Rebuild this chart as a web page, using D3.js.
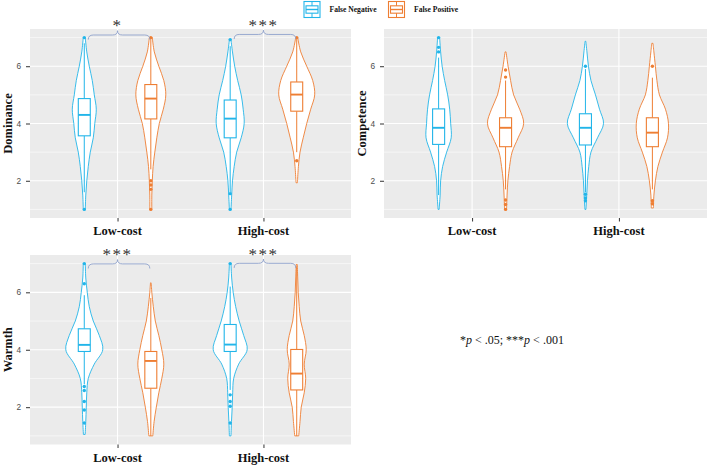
<!DOCTYPE html>
<html>
<head>
<meta charset="utf-8">
<script src="https://cdn.jsdelivr.net/npm/d3@7"></script>
<style>
  body { margin: 0; background: #fff; }
  svg { display: block; }
</style>
</head>
<body>
<div id="chart"></div>
<script>
// ---- data ----
var costs = ["Low-cost", "High-cost"];
var groups = ["False Negative", "False Positive"];
var measures = ["Dominance", "Competence", "Warmth"];
var yTicks = [2, 4, 6];
var yMinor = [1, 3, 5, 7];
var densityGrid = [1, 1.5, 2, 2.5, 3, 3.5, 4, 4.5, 5, 5.5, 6, 6.5, 7];

// order: measure x cost x group
var boxStats = [
  { measure: "Dominance",  cost: "Low-cost",  group: "False Negative", lo: 1.6, q1: 3.57, med: 4.30, q3: 4.87, hi: 6.8 },
  { measure: "Dominance",  cost: "Low-cost",  group: "False Positive", lo: 2.4, q1: 4.16, med: 4.87, q3: 5.36, hi: 7.0 },
  { measure: "Dominance",  cost: "High-cost", group: "False Negative", lo: 1.6, q1: 3.50, med: 4.17, q3: 4.82, hi: 6.7 },
  { measure: "Dominance",  cost: "High-cost", group: "False Positive", lo: 3.0, q1: 4.43, med: 5.01, q3: 5.45, hi: 6.95 },
  { measure: "Competence", cost: "Low-cost",  group: "False Negative", lo: 1.5, q1: 3.27, med: 3.85, q3: 4.51, hi: 6.3 },
  { measure: "Competence", cost: "Low-cost",  group: "False Positive", lo: 1.7, q1: 3.19, med: 3.85, q3: 4.20, hi: 5.5 },
  { measure: "Competence", cost: "High-cost", group: "False Negative", lo: 1.6, q1: 3.25, med: 3.85, q3: 4.34, hi: 5.9 },
  { measure: "Competence", cost: "High-cost", group: "False Positive", lo: 1.7, q1: 3.19, med: 3.68, q3: 4.20, hi: 5.6 },
  { measure: "Warmth",     cost: "Low-cost",  group: "False Negative", lo: 2.8, q1: 3.94, med: 4.17, q3: 4.73, hi: 5.9 },
  { measure: "Warmth",     cost: "Low-cost",  group: "False Positive", lo: 1.0, q1: 2.66, med: 3.61, q3: 3.94, hi: 5.8 },
  { measure: "Warmth",     cost: "High-cost", group: "False Negative", lo: 2.6, q1: 3.94, med: 4.18, q3: 4.88, hi: 6.2 },
  { measure: "Warmth",     cost: "High-cost", group: "False Positive", lo: 1.0, q1: 2.60, med: 3.17, q3: 4.01, hi: 6.9 }
];

var violinRange = [
  [1, 7], [1, 7], [1, 6.93], [1.93, 7],
  [1, 7], [1, 6.5], [1, 6.87], [1.05, 6.8],
  [1.05, 7], [1, 6.33], [1, 7], [1, 6.97]
];

// relative density on densityGrid
var violinDensity = [
  [0.05, 0.075, 0.125, 0.2, 0.3, 0.45, 0.525, 0.6, 0.5, 0.4, 0.25, 0.125, 0.05],
  [0.05, 0.05, 0.075, 0.115, 0.2, 0.3, 0.425, 0.625, 0.75, 0.65, 0.4, 0.175, 0.075],
  [0.04, 0.075, 0.115, 0.2, 0.325, 0.55, 0.7, 0.65, 0.55, 0.375, 0.225, 0.115, 0.025],
  [0, 0, 0.04, 0.085, 0.165, 0.325, 0.5, 0.7, 0.9, 0.8, 0.5, 0.2, 0.05],
  [0.025, 0.075, 0.1, 0.2, 0.4, 0.625, 0.6, 0.55, 0.45, 0.3, 0.175, 0.1, 0.05],
  [0.05, 0.075, 0.115, 0.2, 0.325, 0.625, 0.9, 0.7, 0.4, 0.25, 0.125, 0.025, 0],
  [0.025, 0.065, 0.1, 0.165, 0.275, 0.6, 0.9, 0.7, 0.5, 0.275, 0.15, 0.075, 0],
  [0.05, 0.075, 0.15, 0.275, 0.5, 0.75, 0.8, 0.65, 0.35, 0.225, 0.15, 0.075, 0],
  [0.04, 0.075, 0.1, 0.125, 0.2, 0.5, 0.925, 0.75, 0.45, 0.25, 0.15, 0.075, 0.05],
  [0.1, 0.165, 0.275, 0.4, 0.55, 0.65, 0.55, 0.4, 0.225, 0.125, 0.05, 0, 0],
  [0.04, 0.065, 0.1, 0.125, 0.175, 0.425, 0.85, 0.675, 0.45, 0.275, 0.15, 0.075, 0.04],
  [0.1, 0.165, 0.225, 0.375, 0.45, 0.375, 0.475, 0.375, 0.2, 0.125, 0.075, 0.05, 0.025]
];

var outliers = [
  [1, 7],
  [2.0, 1.85, 1.7, 1.0, 7],
  [6.93, 1.55, 1.0],
  [7, 2.7],
  [7, 6.66, 6.5],
  [5.87, 5.62, 1.33, 1.17, 1.0],
  [6.0, 1.53, 1.4, 1.3],
  [6.0, 1.3, 1.2],
  [7, 6.3, 2.72, 2.58, 2.2, 1.9, 1.45],
  [],
  [7, 2.43, 2.2, 2.03, 1.45],
  []
];

// brace tip level (data units) and label
var sigBrackets = [
  { measure: "Dominance", cost: "Low-cost",  label: "*",   tip: 7.24 },
  { measure: "Dominance", cost: "High-cost", label: "***", tip: 7.26 },
  { measure: "Warmth",    cost: "Low-cost",  label: "***", tip: 7.14 },
  { measure: "Warmth",    cost: "High-cost", label: "***", tip: 7.16 }
];

// ---- layout ----
var W = 709, H = 465;
var serif = "'Liberation Serif','Times New Roman',serif";
var sans = "'Liberation Sans',Arial,sans-serif";
var colors = { "False Negative": "#22B5E9", "False Positive": "#EE7E33" };
var panels = [
  { measure: "Dominance",  left: 30,  right: 351, top: 29,  bottom: 218 },
  { measure: "Competence", left: 384, right: 707, top: 29,  bottom: 218 },
  { measure: "Warmth",     left: 30,  right: 351, top: 255, bottom: 444.5 }
];

var svg = d3.select("#chart").append("svg")
    .attr("width", W)
    .attr("height", H);

function densityAt(dens, v) {
  for (var i = 0; i < densityGrid.length - 1; i++) {
    if (v >= densityGrid[i] && v <= densityGrid[i + 1]) {
      var t = (v - densityGrid[i]) / (densityGrid[i + 1] - densityGrid[i]);
      return dens[i] + t * (dens[i + 1] - dens[i]);
    }
  }
  return 0;
}

panels.forEach(function(p) {
  var g = svg.append("g");

  var x = d3.scalePoint().domain(costs).range([p.left, p.right]).padding(0.6);
  var step = x.step();
  var dodge = d3.scalePoint().domain(groups).range([-0.228 * step, 0.228 * step]);
  var y = d3.scaleLinear().domain([0.7, 7.3]).range([p.bottom, p.top]);
  var w = d3.scaleLinear().domain([0, 1]).range([0, 0.137 * step]);
  var boxHalf = 0.041 * step;

  // panel background + grid
  g.append("rect")
      .attr("x", p.left).attr("y", p.top)
      .attr("width", p.right - p.left).attr("height", p.bottom - p.top)
      .attr("fill", "#EBEBEB");

  g.selectAll(".minor").data(yMinor).enter().append("line")
      .attr("x1", p.left).attr("x2", p.right)
      .attr("y1", function(d) { return y(d); }).attr("y2", function(d) { return y(d); })
      .attr("stroke", "#fff").attr("stroke-width", 0.55);

  g.selectAll(".major").data(yTicks).enter().append("line")
      .attr("x1", p.left).attr("x2", p.right)
      .attr("y1", function(d) { return y(d); }).attr("y2", function(d) { return y(d); })
      .attr("stroke", "#fff").attr("stroke-width", 1.1);

  g.selectAll(".vgrid").data(costs).enter().append("line")
      .attr("x1", function(d) { return x(d); }).attr("x2", function(d) { return x(d); })
      .attr("y1", p.top).attr("y2", p.bottom)
      .attr("stroke", "#fff").attr("stroke-width", 1.1);

  // axes
  var yAxis = d3.axisLeft(y).tickValues(yTicks).tickFormat(d3.format("d")).tickSize(4).tickPadding(5);
  var ya = g.append("g").attr("transform", "translate(" + p.left + ",0)").call(yAxis);
  ya.select(".domain").remove();
  ya.selectAll("line").attr("stroke", "#333");
  ya.selectAll("text").attr("fill", "#4D4D4D").style("font-family", sans).style("font-size", "8.3px");

  var xAxis = d3.axisBottom(x).tickSize(3.5).tickFormat("");
  var xa = g.append("g").attr("transform", "translate(0," + p.bottom + ")").call(xAxis);
  xa.select(".domain").remove();
  xa.selectAll("line").attr("stroke", "#333");

  g.selectAll(".xlab").data(costs).enter().append("text")
      .attr("x", function(d) { return x(d); })
      .attr("y", p.bottom + 17)
      .attr("text-anchor", "middle")
      .style("font-family", serif).style("font-weight", "bold").style("font-size", "12.5px")
      .attr("fill", "#111")
      .text(function(d) { return d; });

  g.append("text")
      .attr("transform", "translate(" + (p.left - 18.5) + "," + ((p.top + p.bottom) / 2) + ") rotate(-90)")
      .attr("text-anchor", "middle")
      .style("font-family", serif).style("font-weight", "bold").style("font-size", "12.5px")
      .attr("fill", "#111")
      .text(p.measure);

  // violins + boxplots
  var area = d3.area().curve(d3.curveCatmullRom.alpha(0.5));

  boxStats.forEach(function(b, i) {
    if (b.measure !== p.measure) return;
    var cx = x(b.cost) + dodge(b.group);
    var col = colors[b.group];
    var dens = violinDensity[i];
    var lo = violinRange[i][0], hi = violinRange[i][1];

    var pts = [[lo, densityAt(dens, lo)]];
    densityGrid.forEach(function(gv, j) {
      if (gv > lo && gv < hi) pts.push([gv, dens[j]]);
    });
    pts.push([hi, densityAt(dens, hi)]);

    area.y(function(d) { return y(d[0]); })
        .x0(function(d) { return cx - w(d[1]); })
        .x1(function(d) { return cx + w(d[1]); });

    g.append("path")
        .attr("d", area(pts))
        .attr("fill", "#fff")
        .attr("stroke", col)
        .attr("stroke-width", 0.9);

    // whiskers
    g.append("line")
        .attr("x1", cx).attr("x2", cx)
        .attr("y1", y(b.hi)).attr("y2", y(b.q3))
        .attr("stroke", col).attr("stroke-width", 1);
    g.append("line")
        .attr("x1", cx).attr("x2", cx)
        .attr("y1", y(b.q1)).attr("y2", y(b.lo))
        .attr("stroke", col).attr("stroke-width", 1);

    g.append("rect")
        .attr("x", cx - boxHalf).attr("width", 2 * boxHalf)
        .attr("y", y(b.q3)).attr("height", y(b.q1) - y(b.q3))
        .attr("fill", "#fff")
        .attr("stroke", col).attr("stroke-width", 1.1);

    g.append("line")
        .attr("x1", cx - boxHalf).attr("x2", cx + boxHalf)
        .attr("y1", y(b.med)).attr("y2", y(b.med))
        .attr("stroke", col).attr("stroke-width", 1.9);

    g.selectAll(null).data(outliers[i]).enter().append("circle")
        .attr("cx", cx)
        .attr("cy", function(d) { return y(d); })
        .attr("r", 1.7)
        .attr("fill", col);
  });

  // significance braces
  sigBrackets.forEach(function(s) {
    if (s.measure !== p.measure) return;
    var x0 = x(s.cost) + dodge(groups[0]) + 4;
    var x1 = x(s.cost) + dodge(groups[1]) - 1;
    var xm = x(s.cost);
    var yEnd = y(s.tip - 0.31), yFlat = y(s.tip - 0.15), yTip = y(s.tip);
    var r = 5;
    var path = "M" + x0 + "," + yEnd +
        " Q" + x0 + "," + yFlat + " " + (x0 + r) + "," + yFlat +
        " L" + (xm - r) + "," + yFlat +
        " Q" + xm + "," + yFlat + " " + xm + "," + yTip +
        " Q" + xm + "," + yFlat + " " + (xm + r) + "," + yFlat +
        " L" + (x1 - r) + "," + yFlat +
        " Q" + x1 + "," + yFlat + " " + x1 + "," + yEnd;
    g.append("path")
        .attr("d", path)
        .attr("fill", "none")
        .attr("stroke", "#8FA2CC")
        .attr("stroke-width", 0.9);

    g.append("text")
        .attr("x", xm)
        .attr("y", yTip + 0.5)
        .attr("text-anchor", "middle")
        .style("font-family", serif).style("font-size", "17px")
        .style("letter-spacing", "1.5px")
        .attr("fill", "#333")
        .text(s.label);
  });
});

// legend
var legend = svg.append("g");
var legendX = [304, 388.5];
groups.forEach(function(gr, i) {
  var lx = legendX[i], ly = 1.5, s = 16;
  var col = colors[gr];
  legend.append("rect")
      .attr("x", lx).attr("y", ly).attr("width", s).attr("height", s)
      .attr("fill", "#fff").attr("stroke", col).attr("stroke-width", 1.1);
  legend.append("rect")
      .attr("x", lx + 2).attr("y", ly + s * 0.27).attr("width", s - 4).attr("height", s * 0.46)
      .attr("fill", "#fff").attr("stroke", col).attr("stroke-width", 1.1);
  legend.append("line")
      .attr("x1", lx + 2).attr("x2", lx + s - 2)
      .attr("y1", ly + s / 2).attr("y2", ly + s / 2)
      .attr("stroke", col).attr("stroke-width", 1.4);
  legend.append("line")
      .attr("x1", lx + s / 2).attr("x2", lx + s / 2)
      .attr("y1", ly).attr("y2", ly + s * 0.27)
      .attr("stroke", col).attr("stroke-width", 1);
  legend.append("line")
      .attr("x1", lx + s / 2).attr("x2", lx + s / 2)
      .attr("y1", ly + s * 0.73).attr("y2", ly + s)
      .attr("stroke", col).attr("stroke-width", 1);
  legend.append("text")
      .attr("x", lx + s + 9.5)
      .attr("y", ly + s / 2 + 2.6)
      .style("font-family", serif).style("font-weight", "bold").style("font-size", "7.6px")
      .attr("fill", "#111")
      .text(gr);
});

// p-value note
var note = svg.append("text")
    .attr("x", 460)
    .attr("y", 344)
    .style("font-family", serif).style("font-size", "12px")
    .attr("fill", "#111");
note.append("tspan").text("*");
note.append("tspan").style("font-style", "italic").text("p");
note.append("tspan").text(" < .05; ***");
note.append("tspan").style("font-style", "italic").text("p");
note.append("tspan").text(" < .001");
</script>
</body>
</html>
